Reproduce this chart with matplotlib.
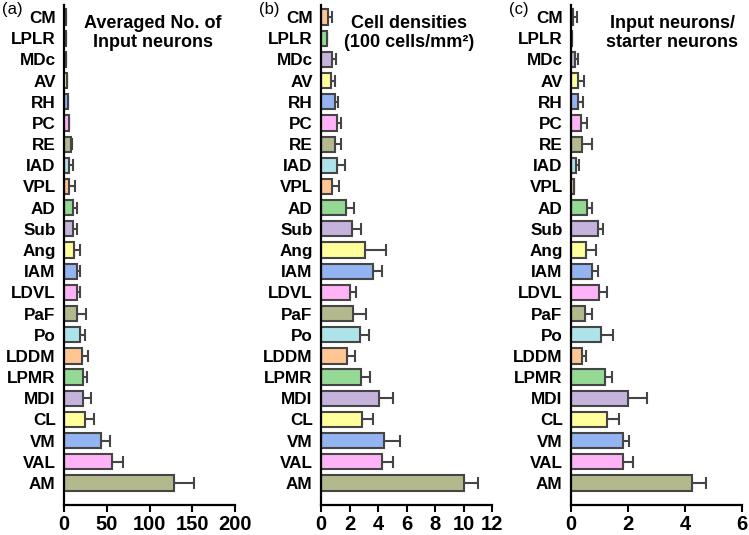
import matplotlib
matplotlib.use("Agg")
import matplotlib.pyplot as plt
import numpy as np

plt.rcParams['font.family'] = ['Liberation Sans', 'DejaVu Sans']

regions = ["CM", "LPLR", "MDc", "AV", "RH", "PC", "RE", "IAD", "VPL", "AD", "Sub",
           "Ang", "IAM", "LDVL", "PaF", "Po", "LDDM", "LPMR", "MDI", "CL", "VM", "VAL", "AM"]

input_mean = [2, 2, 2, 4, 5, 6, 8, 6, 6, 10, 10, 11.7, 15.6, 15, 15.6, 18.7, 20.7, 21.8, 22.6, 24.6, 43.8, 56, 129]
input_err = [0, 0, 0, 0, 0, 0, 1, 5, 7, 5.5, 5.5, 7, 3, 3.5, 10, 6, 7.8, 5.5, 8.6, 10, 10.2, 13, 22.5]

dens_mean = [0.5, 0.45, 0.75, 0.7, 0.98, 1.15, 0.98, 1.1, 0.75, 1.72, 2.2, 3.08, 3.65, 2.05, 2.25, 2.75, 1.85, 2.8, 4.05, 2.9, 4.45, 4.3, 10.05]
dens_err = [0.25, 0, 0.28, 0.3, 0.24, 0.25, 0.4, 0.6, 0.5, 0.58, 0.58, 1.5, 0.65, 0.4, 0.88, 0.6, 0.55, 0.62, 1.0, 0.75, 1.1, 0.75, 0.95]

ratio_mean = [0.08, 0.05, 0.14, 0.26, 0.26, 0.34, 0.4, 0.16, 0.1, 0.55, 0.96, 0.52, 0.75, 0.98, 0.49, 1.05, 0.38, 1.2, 1.99, 1.25, 1.84, 1.84, 4.24]
ratio_err = [0.14, 0, 0.12, 0.2, 0.17, 0.21, 0.33, 0.13, 0, 0.2, 0.18, 0.36, 0.18, 0.27, 0.24, 0.44, 0.15, 0.23, 0.69, 0.45, 0.18, 0.33, 0.51]

palette = ["#B4B98D", "#FFB3F6", "#94B3F1", "#FFFF9C", "#C6B3DC", "#94D994", "#FFC593", "#ADE4EA"]  # from bottom (AM) upward

panels = [
    ("(a)", input_mean, input_err, [0, 50, 100, 150, 200], "Averaged No. of\nInput neurons", [64, 235], 153),
    ("(b)", dens_mean, dens_err, [0, 2, 4, 6, 8, 10, 12], "Cell densities\n(100 cells/mm\u00b2)", [321, 492], 409),
    ("(c)", ratio_mean, ratio_err, [0, 2, 4, 6], "Input neurons/\nstarter neurons", [571, 742], 672),
]

W, H = 749, 535
fig = plt.figure(figsize=(W / 100, H / 100), dpi=100)

n = len(regions)
ypos = np.arange(n)[::-1]  # CM at top, AM at bottom (y=0)
colors = [palette[(n - 1 - i) % len(palette)] for i in range(n)]

ax_top, ax_bot = 5, 505
for label, mean, err, ticks, title, (x0, x1), tx in panels:
    ax = fig.add_axes([x0 / W, 1 - ax_bot / H, (x1 - x0) / W, (ax_bot - ax_top) / H])
    ax.barh(ypos, mean, height=0.72, color=colors, edgecolor="#454545", linewidth=1.5, zorder=2)
    xe = np.array([np.zeros(n), err])
    ax.errorbar(mean, ypos, xerr=xe, fmt="none", ecolor="#454545", elinewidth=1.5,
                capsize=4.5, capthick=1.5, zorder=1)
    ax.set_xlim(ticks[0], ticks[-1])
    ax.set_ylim(-1.04, n - 1 + 0.57)
    ax.set_xticks(ticks)
    ax.set_yticks(ypos)
    ax.set_yticklabels(regions, fontsize=12.3, fontweight="bold")
    ax.tick_params(axis="y", length=0, pad=6)
    ax.tick_params(axis="x", length=5, width=1.5, pad=2)
    ax.set_xticklabels([str(t) for t in ticks], fontsize=14.5, fontweight="bold")
    for s in ["top", "right"]:
        ax.spines[s].set_visible(False)
    for s in ["left", "bottom"]:
        ax.spines[s].set_linewidth(1.6)
        ax.spines[s].set_color("black")
    fig.text(tx / W, 1 - 33 / H, title, ha="center", va="center",
             fontsize=13, fontweight="bold", linespacing=1.1)
    fig.text((x0 - 62) / W, 1 - 2 / H, label, ha="left", va="top", fontsize=12)

fig.savefig("out.png", dpi=100)
